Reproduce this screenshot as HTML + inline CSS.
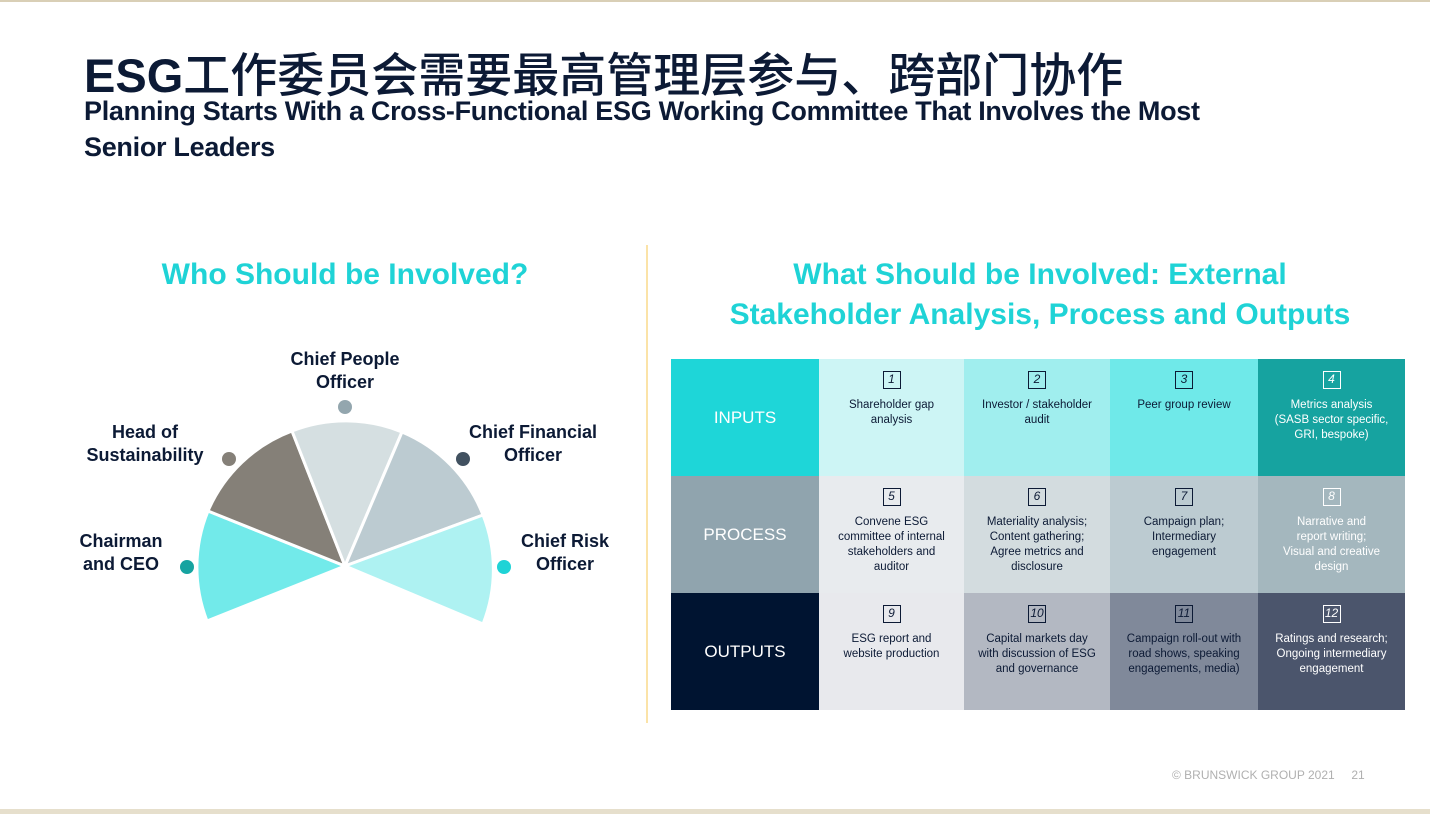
<!DOCTYPE html>
<html><head><meta charset="utf-8"><style>
*{margin:0;padding:0;box-sizing:border-box}
body{width:1430px;height:814px;background:#fff;position:relative;overflow:hidden;font-family:"Liberation Sans","Noto Sans CJK SC",sans-serif;color:#0c1a35}
.a{position:absolute}
.t{font-size:47px;left:84px;top:37px;white-space:nowrap;font-weight:500}
.t b{font-weight:bold}
.s{font-size:27px;font-weight:bold;left:84px;top:93px;line-height:36px;width:1205px;letter-spacing:-0.3px}
.h{color:#1fd3d6;font-size:30px;font-weight:bold;text-align:center;line-height:40px}
.lbl{font-size:18px;text-align:center;line-height:23px;font-weight:bold;color:#0c1a35}
table{position:absolute;left:671px;top:359px;border-collapse:collapse;table-layout:fixed;width:734px}
td{height:117px;vertical-align:top;text-align:center;font-size:11.5px;line-height:15px;padding:12px 4px 0;color:#0c1a35}
td.r{vertical-align:middle;color:#fff;font-size:17px;padding:0}
.n{display:inline-block;width:18px;height:18px;border:1.5px solid #0c1a35;font-style:italic;font-size:12px;line-height:15px;margin-bottom:9px}
.w{color:#fff}.w .n{border-color:#fff}
</style></head><body>
<div class="a" style="left:0;top:0;width:1430px;height:2px;background:#d9cfb6"></div>
<div class="a" style="left:0;top:809px;width:1430px;height:5px;background:#e6dfcc"></div>
<div class="a t"><b>ESG</b>工作委员会需要最高管理层参与、跨部门协作</div>
<div class="a s">Planning Starts With a Cross-Functional ESG Working Committee That Involves the Most<br>Senior Leaders</div>
<div class="a" style="left:646px;top:245px;width:2px;height:478px;background:#fbe3a8"></div>
<div class="a h" style="left:100px;top:255px;width:490px">Who Should be Involved?</div>
<div class="a h" style="left:690px;top:255px;width:700px">What Should be Involved: External<br>Stakeholder Analysis, Process and Outputs</div>
<svg class="a" style="left:0;top:0" width="1430" height="814">
<g stroke="#fff" stroke-width="3" stroke-linejoin="round">
<path d="M345 566 L207 621 A148 148 0 0 1 208 511 Z" fill="#72eaea"/>
<path d="M345 566 L208 511 A148 148 0 0 1 292 431 Z" fill="#858078"/>
<path d="M345 566 L292 431 A148 148 0 0 1 402 432 Z" fill="#d5dfe1"/>
<path d="M345 566 L402 432 A148 148 0 0 1 483 515 Z" fill="#bccbd1"/>
<path d="M345 566 L483 515 A148 148 0 0 1 483 624 Z" fill="#aef2f2"/>
</g>
<circle cx="345" cy="407" r="7" fill="#93a6ae"/>
<circle cx="229" cy="459" r="7" fill="#858078"/>
<circle cx="463" cy="459" r="7" fill="#415160"/>
<circle cx="187" cy="567" r="7" fill="#16a3a0"/>
<circle cx="504" cy="567" r="7" fill="#1fd3d6"/>
</svg>
<div class="a lbl" style="left:270px;top:348px;width:150px">Chief People<br>Officer</div>
<div class="a lbl" style="left:70px;top:421px;width:150px">Head of<br>Sustainability</div>
<div class="a lbl" style="left:458px;top:421px;width:150px">Chief Financial<br>Officer</div>
<div class="a lbl" style="left:46px;top:530px;width:150px">Chairman<br>and CEO</div>
<div class="a lbl" style="left:490px;top:530px;width:150px">Chief Risk<br>Officer</div>
<table>
<colgroup><col style="width:148px"><col style="width:145px"><col style="width:146px"><col style="width:148px"><col style="width:147px"></colgroup>
<tr>
<td class="r" style="background:#1ed6d8">INPUTS</td>
<td style="background:#cdf5f5"><span class="n">1</span><br>Shareholder gap<br>analysis</td>
<td style="background:#a0eeee"><span class="n">2</span><br>Investor / stakeholder<br>audit</td>
<td style="background:#6fe9e9"><span class="n">3</span><br>Peer group review</td>
<td class="w" style="background:#16a3a0"><span class="n">4</span><br>Metrics analysis<br>(SASB sector specific,<br>GRI, bespoke)</td>
</tr>
<tr>
<td class="r" style="background:#90a4ae">PROCESS</td>
<td style="background:#e8ebee"><span class="n">5</span><br>Convene ESG<br>committee of internal<br>stakeholders and<br>auditor</td>
<td style="background:#d3dcdf"><span class="n">6</span><br>Materiality analysis;<br>Content gathering;<br>Agree metrics and<br>disclosure</td>
<td style="background:#bccbd1"><span class="n">7</span><br>Campaign plan;<br>Intermediary<br>engagement</td>
<td class="w" style="background:#a4b7be"><span class="n">8</span><br>Narrative and<br>report writing;<br>Visual and creative<br>design</td>
</tr>
<tr>
<td class="r" style="background:#001431">OUTPUTS</td>
<td style="background:#e8e9ed"><span class="n">9</span><br>ESG report and<br>website production</td>
<td style="background:#b3b8c2"><span class="n">10</span><br>Capital markets day<br>with discussion of ESG<br>and governance</td>
<td style="background:#80899a"><span class="n">11</span><br>Campaign roll-out with<br>road shows, speaking<br>engagements, media)</td>
<td class="w" style="background:#4b556c"><span class="n">12</span><br>Ratings and research;<br>Ongoing intermediary<br>engagement</td>
</tr>
</table>
<div class="a" style="left:1172px;top:768px;font-size:12px;color:#b0b0b0">© BRUNSWICK GROUP 2021 &nbsp;&nbsp;&nbsp;&nbsp;21</div>
</body></html>
